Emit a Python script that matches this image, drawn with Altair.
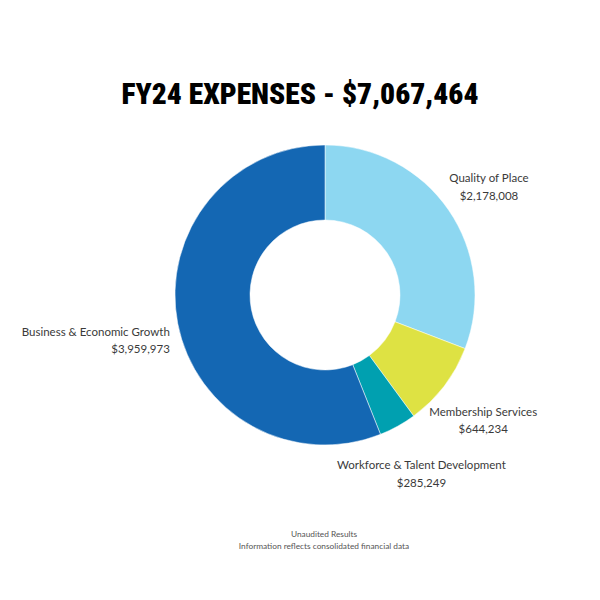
import pandas as pd
import altair as alt

categories = ["Quality of Place", "Membership Services", "Workforce & Talent Development", "Business & Economic Growth"]
amounts = [2178008, 644234, 285249, 3959973]
colors = ["#8DD7F1", "#DEE243", "#00A0B0", "#1467B3"]
title_text = "FY24 EXPENSES - $7,067,464"
footer_lines = ["Unaudited Results", "Information reflects consolidated financial data"]

df = pd.DataFrame({"category": categories, "amount": amounts})
df["idx"] = range(len(df))
df["label"] = df["category"] + "\n" + df["amount"].map(lambda v: f"${v:,}")

cx, cy = 317, 287

base = alt.Chart(df).encode(
    theta=alt.Theta("amount:Q", stack=True),
    order=alt.Order("idx:Q"),
)

donut = base.mark_arc(innerRadius=75, outerRadius=150, stroke="white", strokeWidth=0.5).encode(
    x=alt.value(cx), y=alt.value(cy),
    color=alt.Color("category:N", sort=categories, scale=alt.Scale(domain=categories, range=colors), legend=None),
)

side = base.transform_window(
    cum="sum(amount)", sort=[alt.SortField("idx")]
).transform_joinaggregate(
    total="sum(amount)"
).transform_calculate(
    mid="(datum.cum - datum.amount / 2) / datum.total",
    right_text="datum.mid <= 0.5 ? datum.label : ''",
    left_text="datum.mid > 0.5 ? datum.label : ''",
)

text_style = dict(font="Lato", fontSize=11.5, color="#3a3a3a", lineBreak="\n", lineHeight=17.5, baseline="middle")

right_labels = side.mark_text(radius=199, align="center", dy=-3, **text_style).encode(
    x=alt.value(cx), y=alt.value(cy), text="right_text:N"
)
left_labels = side.mark_text(radius=158, align="right", dy=8, **text_style).encode(
    x=alt.value(cx), y=alt.value(cy), text="left_text:N"
)

title = alt.Chart(pd.DataFrame({"t": [title_text]})).mark_text(
    font="Roboto Condensed, Open Sans Condensed, Roboto", fontWeight=900, fontSize=29.5,
    color="#000000", align="center", baseline="alphabetic",
).encode(x=alt.value(292), y=alt.value(96), text="t:N")

footer = alt.Chart(pd.DataFrame({"t": ["\n".join(footer_lines)]})).mark_text(
    font="Lato", fontSize=8.3, color="#555555", align="center", baseline="top",
    lineBreak="\n", lineHeight=12,
).encode(x=alt.value(316), y=alt.value(522), text="t:N")

chart = alt.layer(donut, right_labels, left_labels, title, footer).properties(
    width=584, height=584, padding=0, autosize=alt.AutoSizeParams(type="none")
).configure_view(stroke=None)

chart.save("out.html", embed_options={"renderer": "svg", "actions": False})
